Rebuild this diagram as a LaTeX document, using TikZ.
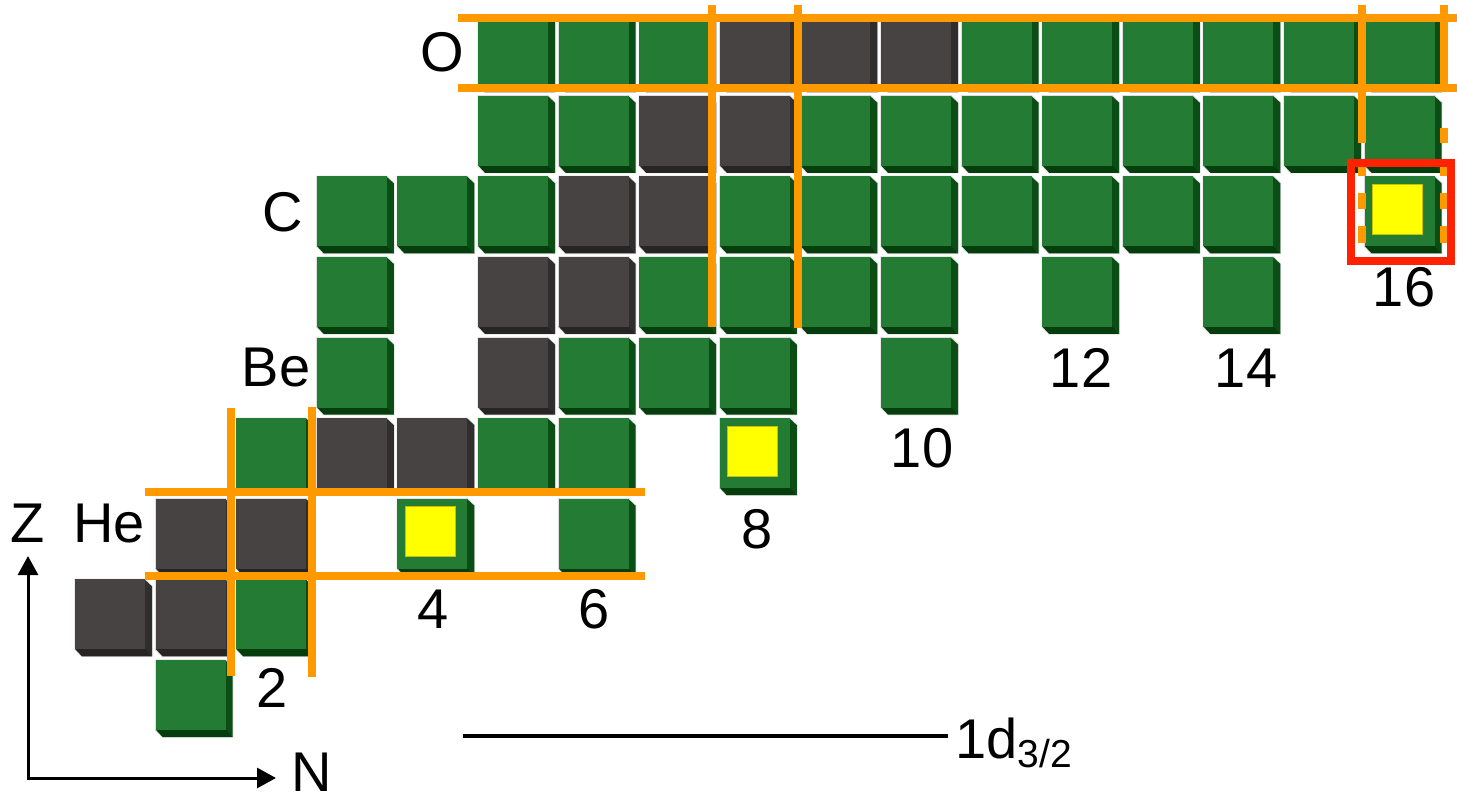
\documentclass[tikz,border=0pt]{standalone}
\usepackage{fontspec}
\setmainfont{Liberation Sans}
\usetikzlibrary{arrows.meta}
\definecolor{gface}{HTML}{237B34}
\definecolor{gside}{HTML}{0B4E15}
\definecolor{gbot}{HTML}{063D0C}
\definecolor{kface}{HTML}{474343}
\definecolor{kside}{HTML}{2F2D2D}
\definecolor{kbot}{HTML}{262424}
\definecolor{shellorange}{HTML}{FF9900}
\definecolor{boxred}{HTML}{FF2200}
\definecolor{yelfill}{HTML}{FFFF00}
\definecolor{yeledge}{HTML}{C9C000}
\newcommand\sqcell[3]{%
  \begin{scope}[shift={({75+80.6*#1},{660-80.6*#2})}]
    \draw[black!13, line width=1.4pt, line join=round] (0,0) -- (70,0) -- (77,7) -- (77,77) -- (7,77) -- (0,70) -- cycle;
    \fill[#3side] (69.5,0) -- (77,7) -- (77,77) -- (69.5,70) -- cycle;
    \fill[#3bot] (0,69.5) -- (70,69.5) -- (77,77) -- (7,77) -- cycle;
    \fill[#3face] (0,0) rectangle (70,70);
  \end{scope}}
\newcommand\yelcell[2]{%
  \begin{scope}[shift={({75+80.6*#1},{660-80.6*#2})}]
    \filldraw[fill=yelfill, draw=yeledge, line width=0.8pt] (8,8) rectangle (58,58);
  \end{scope}}
\begin{document}
\begin{tikzpicture}[x=1pt,y=-1pt,
  lbl/.style={inner sep=0pt, font=\fontsize{56}{62}\selectfont},
  shell/.style={draw=shellorange, line width=8pt},
  axisline/.style={line width=3pt, line join=miter}]
\useasboundingbox (0,0) rectangle (1457,802);
% cells
\foreach \n/\z/\t in {
  1/0/g,
  0/1/k, 1/1/k, 2/1/g,
  1/2/k, 2/2/k, 4/2/g, 6/2/g,
  2/3/g, 3/3/k, 4/3/k, 5/3/g, 6/3/g, 8/3/g,
  3/4/g, 5/4/k, 6/4/g, 7/4/g, 8/4/g, 10/4/g,
  3/5/g, 5/5/k, 6/5/k, 7/5/g, 8/5/g, 9/5/g, 10/5/g, 12/5/g, 14/5/g,
  3/6/g, 4/6/g, 5/6/g, 6/6/k, 7/6/k, 8/6/g, 9/6/g, 10/6/g, 11/6/g, 12/6/g, 13/6/g, 14/6/g, 16/6/g,
  5/7/g, 6/7/g, 7/7/k, 8/7/k, 9/7/g, 10/7/g, 11/7/g, 12/7/g, 13/7/g, 14/7/g, 15/7/g, 16/7/g,
  5/8/g, 6/8/g, 7/8/g, 8/8/k, 9/8/k, 10/8/k, 11/8/g, 12/8/g, 13/8/g, 14/8/g, 15/8/g, 16/8/g}
  {\sqcell{\n}{\z}{\t}}
\yelcell{4}{2}
\yelcell{8}{3}
\yelcell{16}{6}
% shell lines: light nuclei
\coordinate (h1a) at (145,492); \coordinate (h1b) at (645,492);
\coordinate (h2a) at (145,576); \coordinate (h2b) at (645,576);
\coordinate (v1a) at (231,408); \coordinate (v1b) at (231,676);
\coordinate (v2a) at (312,407); \coordinate (v2b) at (312,677);
\draw[shell] (h1a) -- (h1b);
\draw[shell] (h2a) -- (h2b);
\draw[shell] (v1a) -- (v1b);
\draw[shell] (v2a) -- (v2b);
% shell lines: oxygen region
\coordinate (t1a) at (458,18); \coordinate (t1b) at (1457,18);
\coordinate (t2a) at (458,88); \coordinate (t2b) at (1457,88);
\coordinate (u1a) at (712,5); \coordinate (u1b) at (712,327);
\coordinate (u2a) at (798,5); \coordinate (u2b) at (798,328);
\draw[shell] (t1a) -- (t1b);
\draw[shell] (t2a) -- (t2b);
\draw[shell] (u1a) -- (u1b);
\draw[shell] (u2a) -- (u2b);
% right lines at N=16
\coordinate (r1a) at (1362,5); \coordinate (r1b) at (1362,143);
\coordinate (r2a) at (1444,5); \coordinate (r2b) at (1444,92);
\coordinate (r2c) at (1444,128); \coordinate (r2d) at (1444,143);
\draw[shell] (r1a) -- (r1b);
\draw[shell] (r2a) -- (r2b);
\draw[shell] (r2c) -- (r2d);
\foreach \xx in {1362,1444}{
  \draw[shell] (\xx,160) -- (\xx,176);
  \draw[shell] (\xx,193) -- (\xx,209);
  \draw[shell] (\xx,226) -- (\xx,243);
}
% red box
\coordinate (rb1) at (1351,163); \coordinate (rb2) at (1451,261);
\draw[boxred, line width=8.5pt] (rb1) rectangle (rb2);
% element labels
\node[lbl] (He) at (109,524) {He};
\node[lbl] (Be) at (276,368) {Be};
\node[lbl] (C) at (283,212) {C};
\node[lbl] (O) at (442,52) {O};
% magic numbers
\node[lbl] (m2) at (272,688) {2};
\node[lbl] (m4) at (433,609) {4};
\node[lbl] (m6) at (594,609) {6};
\node[lbl] (m8) at (757,529) {8};
\node[lbl] (m10) at (922,448) {10};
\node[lbl] (m12) at (1081,368) {12};
\node[lbl] (m14) at (1246,368) {14};
\node[lbl] (m16) at (1404,287) {16};
% axes
\coordinate (ori) at (28,778);
\coordinate (ztip) at (28,556);
\coordinate (ntip) at (276,778);
\draw[axisline, {Triangle[length=19pt,width=20pt]}-{Triangle[length=19pt,width=20pt]}] (ztip) -- (ori) -- (ntip);
\node[lbl] (Zl) at (28,523) {Z};
\node[lbl] (Nl) at (312,772) {N};
% 1d3/2 level
\coordinate (la) at (463,736);
\coordinate (lb) at (948,736);
\draw[line width=4pt] (la) -- (lb);
\node[lbl, anchor=base west] (d32) at (955,758) {1d\raisebox{-9pt}{\fontsize{39}{44}\selectfont 3/2}};
\end{tikzpicture}
\end{document}
